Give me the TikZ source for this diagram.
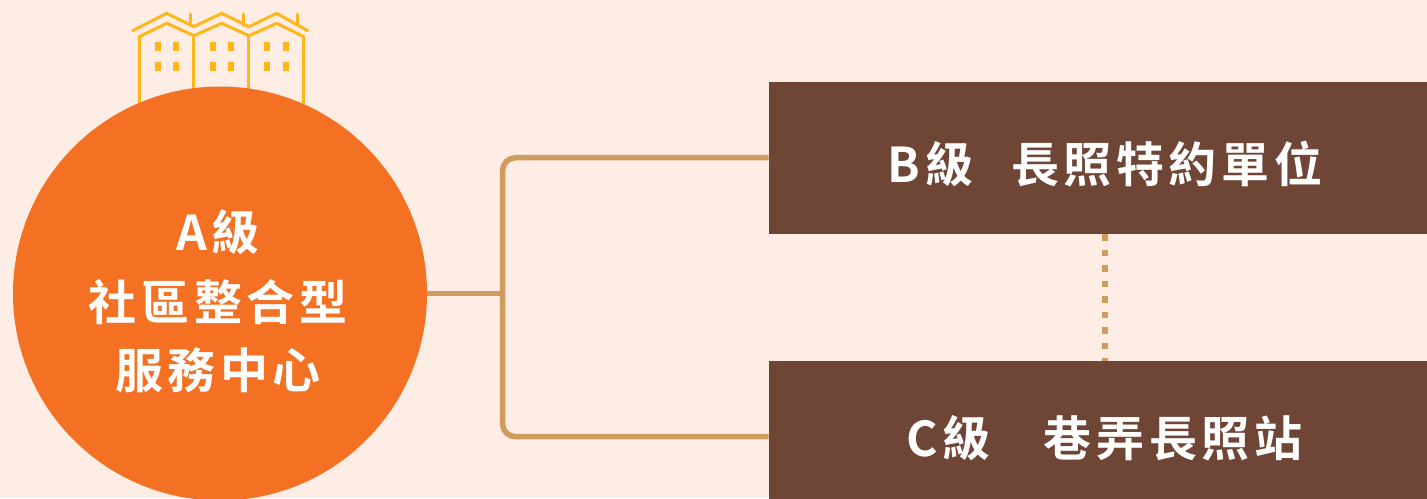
\documentclass[tikz,border=0pt]{standalone}
\usepackage{fontspec}
\newfontfamily\cjk[LetterSpace=9.5,BoldFont={Noto Sans CJK TC Bold}]{Noto Sans CJK TC}
\definecolor{bgc}{HTML}{FEEDE4}
\definecolor{orangec}{HTML}{F47022}
\definecolor{brownc}{HTML}{6F4535}
\definecolor{linec}{HTML}{CF9C5E}
\definecolor{housec}{HTML}{FDB71A}
\tikzset{
  circlenode/.style={circle,fill=orangec,minimum size=414pt,inner sep=0pt,text=white,align=center},
  boxnode/.style={rectangle,fill=brownc,anchor=north west,minimum width=658.5pt,inner sep=0pt,text=white},
  label/.style={font=\cjk\bfseries\fontsize{48}{73}\selectfont,text=white,anchor=center},
  conn/.style={draw=linec,line width=5.5pt},
  dotconn/.style={draw=linec,line width=5.3pt,dash pattern=on 6.7pt off 8.8pt},
  roof/.style={draw=housec,line width=3pt,line cap=round,line join=miter},
  win/.style={fill=housec}
}
\begin{document}
\begin{tikzpicture}[x=1pt,y=-1pt]
\useasboundingbox (0,0) rectangle (1427,498);
\fill[bgc] (0,0) rectangle (1427,498);
\begin{scope}
\clip (0,0) rectangle (1427,498);
% houses
\begin{scope}[shift={(120,0)},x=0.3333pt,y=-0.3333pt]
\draw[roof] (38,92)--(140,40)--(222,80)--(305,40)--(387,80)--(470,40)--(563,92);
\draw[roof] (58,310)--(58,110)--(140,70)--(222,107)--(305,70)--(387,107)--(470,70)--(551,110)--(551,310);
\draw[roof] (222,107)--(222,270) (387,107)--(387,270);
\draw[roof] (211,42)--(211,76) (370,42)--(370,76) (533,42)--(533,70);
\foreach \x in {106,160,271,325,433,490}{
  \fill[win] (\x,125) rectangle ++(16,27);
  \fill[win] (\x,185) rectangle ++(16,27);
}
\end{scope}
\node[circlenode] (a) at (220,293.5) {};
\node[boxnode,minimum height=152pt] (b) at (768.5,82) {};
\node[boxnode,minimum height=152pt] (c) at (768.5,361) {};
\end{scope}
\node[label] (a1) at (218,232) {A級};
\node[label] (a2) at (218,302) {社區整合型};
\node[label] (a3) at (218,370) {服務中心};
\node[label] (b1) at (1105,164) {B級\hspace{38pt}長照特約單位};
\node[label] (c1) at (1104.5,438) {C級\hspace{53pt}巷弄長照站};
\coordinate (j) at (502.5,293.5);
\coordinate (bt) at (768.5,157.7);
\coordinate (ct) at (768.5,436.7);
\draw[conn] (a.east) -- (j);
\draw[conn,rounded corners=13pt] (bt) -- (502.5,157.7) -- (502.5,436.7) -- (ct);
\draw[dotconn] (1105,234) -- (1105,361);
\end{tikzpicture}
\end{document}
